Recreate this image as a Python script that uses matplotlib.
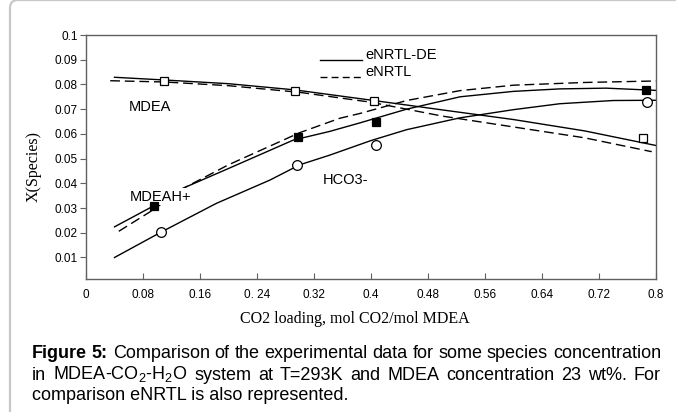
import matplotlib
matplotlib.use("Agg")
import matplotlib.pyplot as plt
from matplotlib.patches import FancyBboxPatch
from matplotlib.transforms import IdentityTransform

plt.rcParams['font.family'] = ['Liberation Sans', 'DejaVu Sans']
plt.rcParams['mathtext.fontset'] = 'custom'
plt.rcParams['mathtext.rm'] = 'Liberation Sans'
plt.rcParams['mathtext.it'] = 'Liberation Sans:italic'

# experimental points
x_mdea_exp = [0.110, 0.293, 0.404, 0.782]
y_mdea_exp = [0.0815, 0.0775, 0.0733, 0.0582]
x_mdeah_exp = [0.096, 0.298, 0.407, 0.786]
y_mdeah_exp = [0.0308, 0.0588, 0.0647, 0.0777]
x_hco3_exp = [0.105, 0.296, 0.407, 0.788]
y_hco3_exp = [0.0202, 0.0474, 0.0555, 0.0728]

# eNRTL-DE model (solid)
x_mdea_de = [0.04, 0.11, 0.2, 0.293, 0.404, 0.5, 0.6, 0.7, 0.8]
y_mdea_de = [0.0829, 0.0818, 0.0803, 0.0778, 0.0735, 0.0697, 0.0658, 0.0612, 0.0553]
x_mdeah_de = [0.04, 0.097, 0.136, 0.2, 0.291, 0.342, 0.385, 0.45, 0.525, 0.6, 0.665, 0.73, 0.8]
y_mdeah_de = [0.0224, 0.0312, 0.038, 0.046, 0.0575, 0.061, 0.0645, 0.0700, 0.0750, 0.0772, 0.0782, 0.0785, 0.0776]
x_hco3_de = [0.04, 0.105, 0.183, 0.258, 0.3, 0.342, 0.4, 0.45, 0.525, 0.6, 0.665, 0.74, 0.8]
y_hco3_de = [0.0100, 0.0202, 0.0319, 0.0413, 0.0475, 0.0514, 0.0573, 0.0617, 0.0665, 0.0698, 0.0722, 0.0735, 0.0736]

# eNRTL model (dashed)
x_mdea_nr = [0.034, 0.11, 0.2, 0.3, 0.4, 0.5, 0.6, 0.7, 0.794]
y_mdea_nr = [0.0815, 0.0810, 0.0795, 0.0768, 0.0728, 0.0672, 0.0628, 0.0584, 0.0528]
x_mdeah_nr = [0.046, 0.09, 0.14, 0.2, 0.3, 0.356, 0.385, 0.45, 0.525, 0.6, 0.7, 0.8]
y_mdeah_nr = [0.0206, 0.0285, 0.0385, 0.0475, 0.0605, 0.0663, 0.0683, 0.0735, 0.0775, 0.0797, 0.0808, 0.0814]

x_ticks = [0, 0.08, 0.16, 0.24, 0.32, 0.4, 0.48, 0.56, 0.64, 0.72, 0.8]
x_tick_labels = ["0", "0.08", "0.16", "0. 24", "0.32", "0.4", "0.48", "0.56", "0.64", "0.72", "0.8"]
y_ticks = [0.01, 0.02, 0.03, 0.04, 0.05, 0.06, 0.07, 0.08, 0.09, 0.1]
y_tick_labels = ["0.01", "0.02", "0.03", "0.04", "0.05", "0.06", "0.07", "0.08", "0.09", "0.1"]

legend_labels = ["eNRTL-DE", "eNRTL"]

caption_lines = [
    [("Figure", 'bold'), ("5:", 'bold'), ("Comparison", 'normal'), ("of", 'normal'), ("the", 'normal'),
     ("experimental", 'normal'), ("data", 'normal'), ("for", 'normal'), ("some", 'normal'),
     ("species", 'normal'), ("concentration", 'normal')],
    [("in", 'normal'), ("MDEA-CO$_2$-H$_2$O", 'normal'), ("system", 'normal'), ("at", 'normal'),
     ("T=293K", 'normal'), ("and", 'normal'), ("MDEA", 'normal'), ("concentration", 'normal'),
     ("23", 'normal'), ("wt%.", 'normal'), ("For", 'normal')],
]
caption_last = "comparison eNRTL is also represented."

fig = plt.figure(figsize=(6.76, 4.12), dpi=100)

# rounded frame around the figure (clipped at right/bottom)
frame = FancyBboxPatch((10, -30), 720, 442, boxstyle="round,pad=0,rounding_size=8",
                       transform=IdentityTransform(), facecolor='none',
                       edgecolor='#c8c8c8', linewidth=1.6)
fig.patches.append(frame)

ax = fig.add_axes([86/676, 1-279/412, 570/676, 244/412])

dash = (7, 3.5)
# model curves
ax.plot(x_mdea_de, y_mdea_de, color='black', lw=1.0, zorder=2)
ax.plot(x_mdeah_de, y_mdeah_de, color='black', lw=1.0, zorder=2)
ax.plot(x_hco3_de, y_hco3_de, color='black', lw=1.0, zorder=2)
ax.plot(x_mdea_nr, y_mdea_nr, color='black', lw=1.0, dashes=dash, zorder=2)
ax.plot(x_mdeah_nr, y_mdeah_nr, color='black', lw=1.0, dashes=dash, zorder=2)

# experimental data
ax.plot(x_mdea_exp, y_mdea_exp, ls='none', marker='s', ms=6, mfc='white', mec='black', mew=0.9, zorder=5)
ax.plot(x_mdeah_exp, y_mdeah_exp, ls='none', marker='s', ms=6, mfc='black', mec='black', mew=0.9, zorder=5)
ax.plot(x_hco3_exp, y_hco3_exp, ls='none', marker='o', ms=7, mfc='white', mec='black', mew=0.9, zorder=5)

# species labels
ax.text(0.0604, 0.0708, "MDEA", fontsize=10.5, va='center', ha='left')
ax.text(0.0618, 0.0345, "MDEAH+", fontsize=10.5, va='center', ha='left', zorder=4,
        bbox=dict(facecolor='white', edgecolor='none', pad=1.0))
ax.text(0.3326, 0.0413, "HCO3-", fontsize=10.5, va='center', ha='left')

# legend keys: line sits on the text baseline
key_x0, key_x1, key_tx = 0.4105, 0.484, 0.491
key_rows = [0.8975, 0.828]
ax.plot([key_x0, key_x1], [key_rows[0]] * 2, color='black', lw=1.0, transform=ax.transAxes)
ax.plot([key_x0, key_x1], [key_rows[1]] * 2, color='black', lw=1.0, dashes=(5, 3), transform=ax.transAxes)
for lab, ky in zip(legend_labels, key_rows):
    ax.text(key_tx, ky + 0.004, lab, fontsize=10.5, va='baseline', ha='left', transform=ax.transAxes)

ax.set_xlim(0, 0.8)
ax.set_ylim(0.0013, 0.1)
ax.set_xticks(x_ticks)
ax.set_xticklabels(x_tick_labels)
ax.set_yticks(y_ticks)
ax.set_yticklabels(y_tick_labels)
ax.tick_params(axis='x', direction='in', length=4, pad=7, labelsize=8.5, color='#606060')
ax.tick_params(axis='y', direction='out', length=4, pad=2, labelsize=8.5, color='#606060')
for s in ax.spines.values():
    s.set_color('#606060')
    s.set_linewidth(1.0)

ax.set_xlabel("CO2 loading, mol CO2/mol MDEA", family='Liberation Serif', fontsize=11.5)
ax.xaxis.set_label_coords(0.472, -0.132)
ax.set_ylabel("X(Species)", family='Liberation Serif', fontsize=11.5)
ax.yaxis.set_label_coords(-0.077, 0.463)

# caption, first two lines justified between x=32 and x=661 px
fs = 13
H = 412
renderer = fig.canvas.get_renderer()
baselines = [358, 379.5, 400]
left_px, right_px = 32, 661
for words, base in zip(caption_lines, baselines[:2]):
    items = [fig.text(0, H - base, w, fontsize=fs, weight=wt, va='baseline',
                      transform=IdentityTransform()) for w, wt in words]
    widths = [t.get_window_extent(renderer).width for t in items]
    gap = (right_px - left_px - sum(widths)) / (len(items) - 1)
    x = left_px
    for t, w in zip(items, widths):
        t.set_x(x)
        x += w + gap
fig.text(left_px, H - baselines[2], caption_last, fontsize=fs, va='baseline',
         transform=IdentityTransform())

fig.savefig("out.png", dpi=100)
